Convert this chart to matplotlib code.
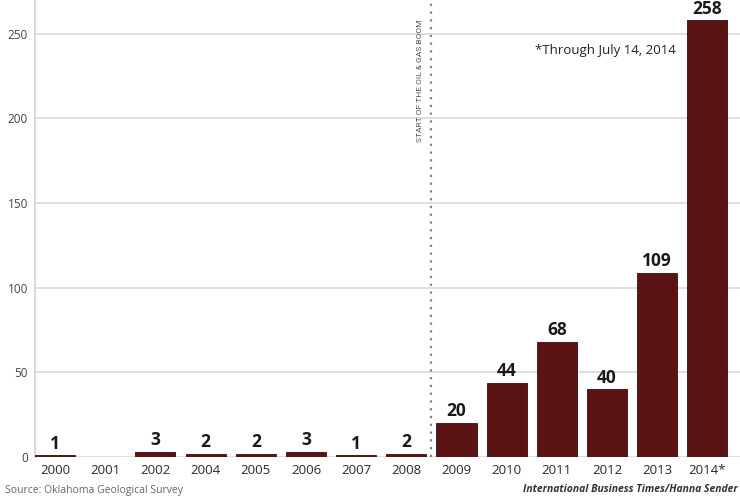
import numpy as np
import matplotlib.pyplot as plt

years = ["2000", "2001", "2002", "2004", "2005", "2006", "2007", "2008",
         "2009", "2010", "2011", "2012", "2013", "2014*"]
quakes = [1, 0, 3, 2, 2, 3, 1, 2, 20, 44, 68, 40, 109, 258]
y_ticks = [0, 50, 100, 150, 200, 250]
boom_note = "START OF THE OIL & GAS BOOM"
through_note = "*Through July 14, 2014"
source = "Source: Oklahoma Geological Survey"
credit = "International Business Times/Hanna Sender"

plt.rcParams["font.family"] = ["Open Sans", "DejaVu Sans"]

fig = plt.figure(figsize=(7.4, 4.96), dpi=100)
ax = fig.add_axes([35 / 740, 39 / 496, 1 - 35 / 740, 1 - 39 / 496])

x = np.arange(len(years))
ax.bar(x, quakes, width=0.8, color="#5a1212", edgecolor="#3d0a0a", linewidth=0.6, zorder=3)
for xi, v in zip(x, quakes):
    if v > 0:
        ax.annotate(str(v), (xi, v), xytext=(0, 2), textcoords="offset points",
                    ha="center", va="bottom", fontsize=12.5, fontweight="bold",
                    color="#1a1a1a", annotation_clip=False)

ax.set_xlim(-0.4, 13.65)
ax.set_ylim(0, 270)
ax.set_yticks(y_ticks)
ax.set_xticks(x)
ax.set_xticklabels(years)
ax.tick_params(axis="both", length=0, colors="#2a2a2a")
ax.tick_params(axis="x", pad=5, labelsize=9.5)
ax.tick_params(axis="y", pad=5, labelsize=8.5, labelcolor="#444444")
ax.yaxis.grid(True, color="#dcdcdc", linewidth=1.3, zorder=0)
for s in ["top", "right", "bottom"]:
    ax.spines[s].set_visible(False)
ax.spines["left"].set_color("#d5d5d5")
ax.spines["left"].set_linewidth(1.3)

ax.axvline(7.5, color="#808080", linestyle=(0, (1, 2.5)), linewidth=1.6, zorder=4)
ax.text(7.27, 222, boom_note, rotation=90, ha="center", va="center",
        fontsize=6, color="#555555", family=["Roboto", "DejaVu Sans"])
ax.text(12.37, 240, through_note, ha="right", va="center", fontsize=9.5, color="#222222")

fig.text(5 / 740, 6 / 496, source, ha="left", va="center", fontsize=7.5, color="#666666")
fig.text(738 / 740, 6 / 496, credit, ha="right", va="center", fontsize=7.5,
         style="italic", fontweight="bold", color="#333333")

fig.savefig("out.png", dpi=100)
